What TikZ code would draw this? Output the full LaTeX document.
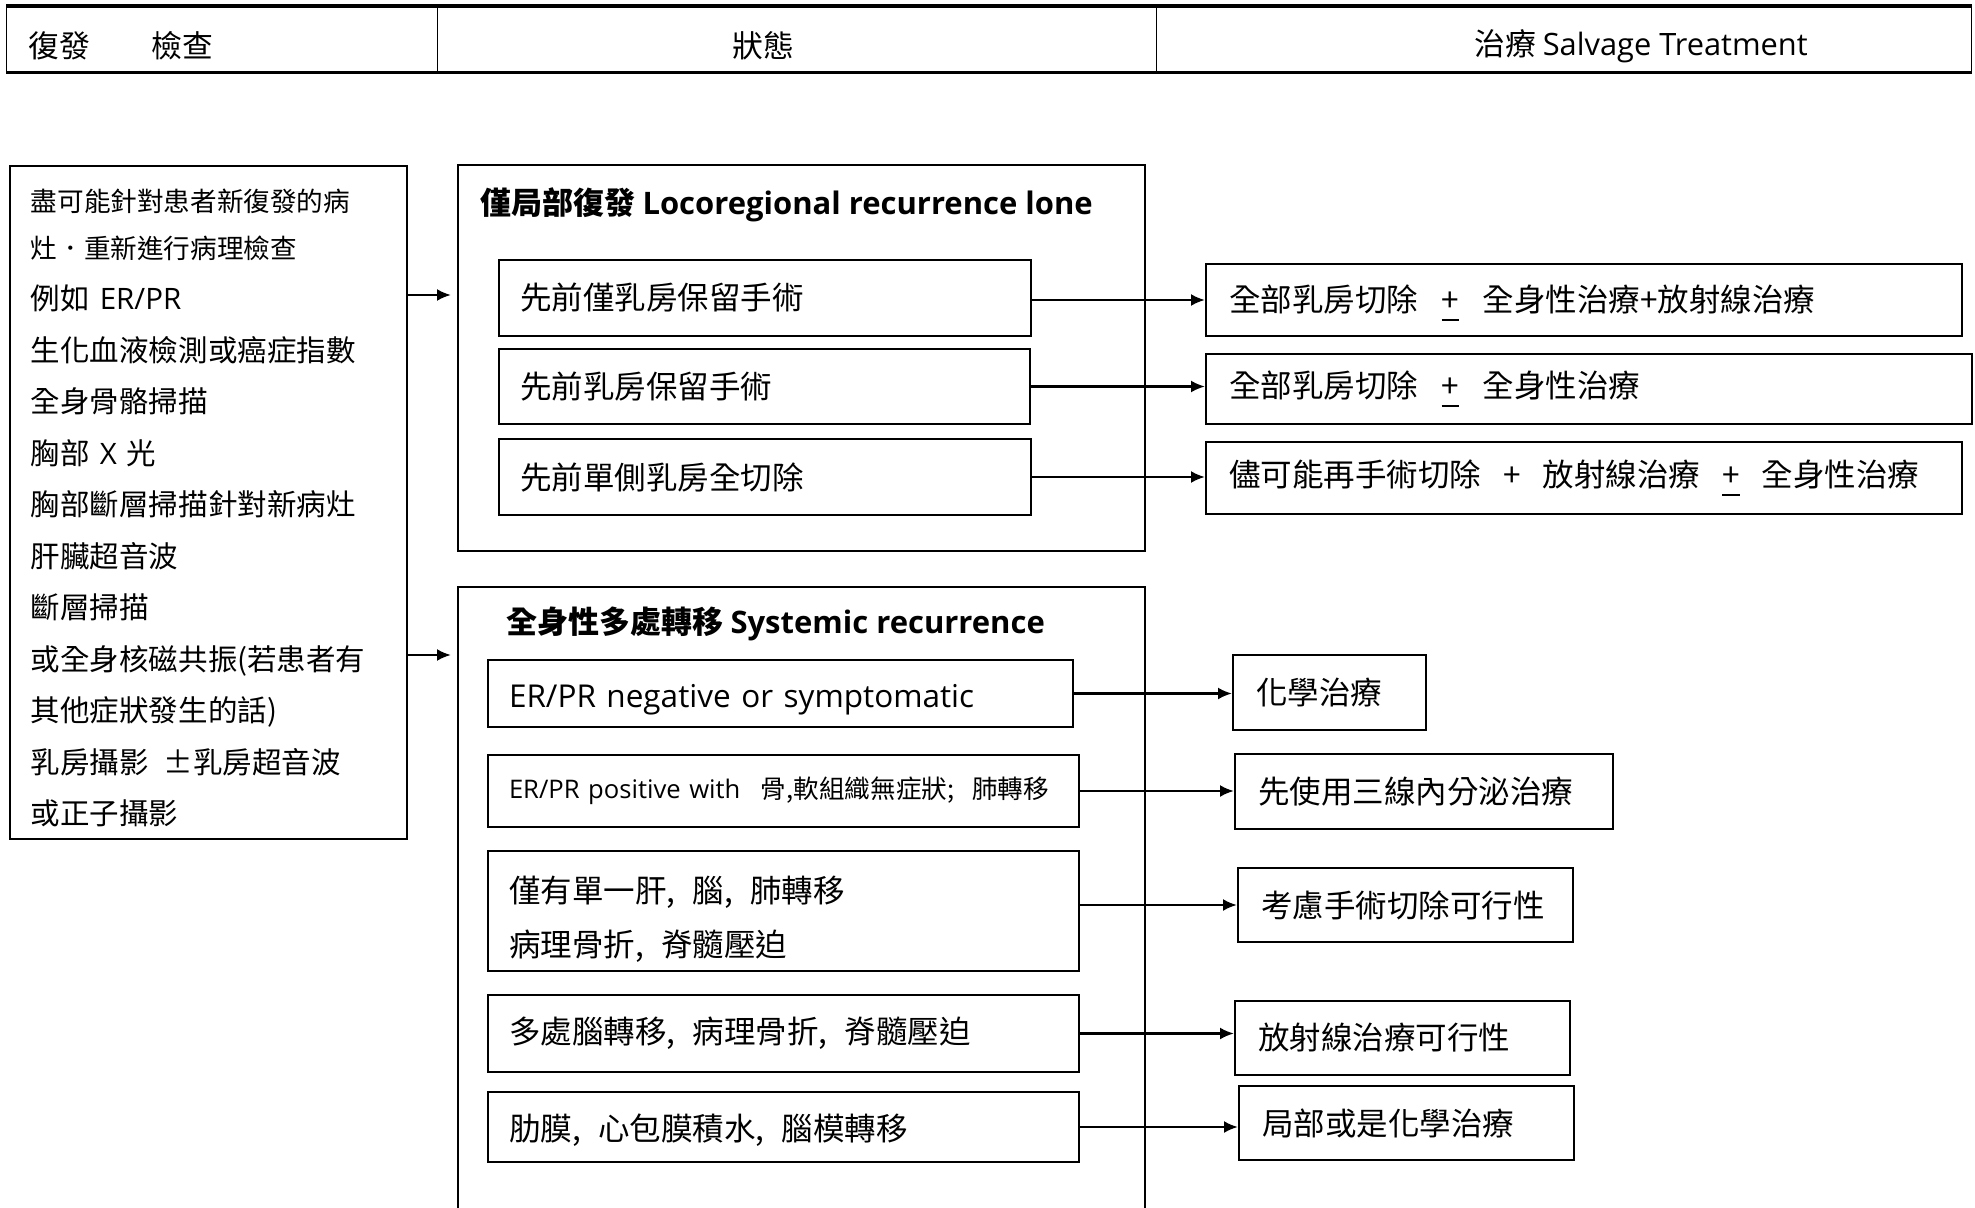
\documentclass[tikz,border=0pt]{standalone}
\usepackage{fontspec}
\setmainfont{Noto Sans CJK TC}
\newfontfamily\lat{Open Sans}
\usetikzlibrary{arrows.meta}
\newcommand\fsz[2]{\fontsize{#1pt}{#2pt}\selectfont}
\newcommand\cmsep{,\hspace{0.55em}}
\newcommand\pmu{\leavevmode\setbox0\hbox{+}\rlap{\rule[-4.5pt]{\wd0}{0.9pt}}\box0}
\newcommand\shiftdn[2]{\raisebox{-#1}[\height][\depth]{#2}}
\begin{document}
\begin{tikzpicture}[x=0.5pt,y=-0.5pt,
  box/.style={draw, line width=1pt, anchor=north west, inner ysep=0pt, inner xsep=10.5pt, align=left, font=\fsz{15.75}{27}},
  rbox/.style={box, inner xsep=11.5pt},
  outer/.style={draw, line width=1pt, anchor=north west, inner sep=0pt},
  cell/.style={draw, line width=0.7pt, anchor=north west, inner sep=0pt, minimum height=32.5pt},
  arr/.style={line width=1.2pt, -{Latex[length=7pt,width=6pt]}},
  hd/.style={anchor=west, inner sep=0pt, font=\fsz{15.4}{18}},
  ttl/.style={anchor=west, inner sep=0pt, font=\bfseries\fsz{15.5}{19}}
]
\useasboundingbox (0,0) rectangle (1975,1208);
\fill[white] (0,0) rectangle (1975,1208);
\clip (0,0) rectangle (1975,1208);

% header
\node[cell, minimum width=215.5pt] (hc1) at (6,6) {};
\node[cell, minimum width=359.5pt] (hc2) at (437,6) {};
\node[cell, minimum width=407.5pt] (hc3) at (1156,6) {};
\draw[line width=1.6pt] (hc1.north west) -- (hc3.north east);
\draw[line width=1.6pt] (hc1.south west) -- (hc3.south east);
\node[hd] (h1) at (28,46) {復發　　檢查};
\node[hd, anchor=center] (h2) at (763,46) {狀態};
\node[hd, anchor=center] (h3) at (1641,46) {治療 {\lat Salvage Treatment}};

% left examination box
\node[box, font=\fsz{14.75}{25.75}, minimum width=198.5pt, minimum height=336.5pt, text width=177.5pt] (lb) at (9,165)
{{\fsz{13.3}{23.5}\rule{0pt}{16.5pt}盡可能針對患者新復發的病\\灶．重新進行病理檢查\par}%
例如 {\lat ER/PR}\\
生化血液檢測或癌症指數\\
全身骨骼掃描\\
胸部 {\lat X} 光\\
胸部斷層掃描針對新病灶\\
肝臟超音波\\
斷層掃描\\
或全身核磁共振(若患者有\\
其他症狀發生的話)\\
乳房攝影\hspace{0.5em}±乳房超音波\\
或正子攝影};

% locoregional
\node[outer, minimum width=343.5pt, minimum height=193pt] (loco) at (457,164) {};
\node[ttl] (locot) at (480,205) {僅局部復發 {\lat Locoregional recurrence lone}};
\node[box, minimum width=266pt, minimum height=38pt, text width=245pt] (lb1) at (498,259) {先前僅乳房保留手術};
\node[box, minimum width=265.5pt, minimum height=37.5pt, text width=244.5pt] (lb2) at (498,348) {先前乳房保留手術};
\node[box, minimum width=266pt, minimum height=38pt, text width=245pt] (lb3) at (498,438) {先前單側乳房全切除};

\node[rbox, minimum width=378pt, minimum height=36pt, text width=355pt] (r1) at (1205,263)
  {\shiftdn{1.5pt}{全部乳房切除\hspace{.75em}\pmu\hspace{.75em}全身性治療+放射線治療}};
\node[rbox, minimum width=383pt, minimum height=35pt, text width=360pt] (r2) at (1205,353)
  {全部乳房切除\hspace{.75em}\pmu\hspace{.75em}全身性治療};
\node[rbox, minimum width=378pt, minimum height=36pt, text width=355pt] (r3) at (1205,441)
  {儘可能再手術切除\hspace{.7em}+\hspace{.7em}放射線治療\hspace{.7em}\pmu\hspace{.7em}全身性治療};

% systemic
\node[outer, minimum width=343.5pt, minimum height=330pt] (sys) at (457,586) {};
\node[ttl] (syst) at (506,624) {全身性多處轉移 {\lat Systemic recurrence}};
\node[box, minimum width=292.5pt, minimum height=33.5pt, text width=271.5pt] (s1) at (487,659)
  {\shiftdn{3pt}{\lat ER/PR negative or symptomatic}};
\node[box, font=\fsz{12.8}{15}, minimum width=295.5pt, minimum height=36pt, text width=274.5pt] (s2) at (487,754)
  {{\lat ER/PR positive with}\hspace{.8em}骨,軟組織無症狀;\hspace{.7em}肺轉移};
\node[box, minimum width=295.5pt, minimum height=60pt, text width=274.5pt] (s3) at (487,850)
  {\rule{0pt}{21pt}僅有單一肝\cmsep 腦\cmsep 肺轉移\\病理骨折\cmsep 脊髓壓迫};
\node[box, minimum width=295.5pt, minimum height=38.5pt, text width=274.5pt] (s4) at (487,994)
  {多處腦轉移\cmsep 病理骨折\cmsep 脊髓壓迫};
\node[box, minimum width=295.5pt, minimum height=35pt, text width=274.5pt] (s5) at (487,1091)
  {\shiftdn{1.5pt}{肋膜\cmsep 心包膜積水\cmsep 腦模轉移}};

\node[rbox, minimum width=96.5pt, minimum height=37.5pt, text width=73.5pt] (t1) at (1232,654) {化學治療};
\node[rbox, minimum width=189pt, minimum height=37.5pt, text width=166pt] (t2) at (1234,753) {先使用三線內分泌治療};
\node[rbox, minimum width=167.5pt, minimum height=37pt, text width=144.5pt] (t3) at (1237,867) {考慮手術切除可行性};
\node[rbox, minimum width=167.5pt, minimum height=37pt, text width=144.5pt] (t4) at (1234,1000) {放射線治療可行性};
\node[rbox, minimum width=167.5pt, minimum height=37pt, text width=144.5pt] (t5) at (1238,1085) {局部或是化學治療};

% connectors
\coordinate (a1) at (0,295);
\coordinate (a2) at (0,655);
\draw[arr, shorten >=3pt] (lb.east |- a1) -- (loco.west |- a1);
\draw[arr, shorten >=3pt] (lb.east |- a2) -- (sys.west |- a2);
\draw[arr] (lb1.east |- r1.west) -- (r1.west);
\draw[arr] (lb2.east) -- (lb2.east -| r2.west);
\draw[arr] (lb3.east) -- (lb3.east -| r3.west);
\draw[arr] (s1.east) -- (s1.east -| t1.west);
\draw[arr] (s2.east) -- (s2.east -| t2.west);
\draw[arr] (s3.east |- t3.west) -- (t3.west);
\draw[arr] (s4.east) -- (s4.east -| t4.west);
\draw[arr] (s5.east) -- (s5.east -| t5.west);
\end{tikzpicture}
\end{document}
